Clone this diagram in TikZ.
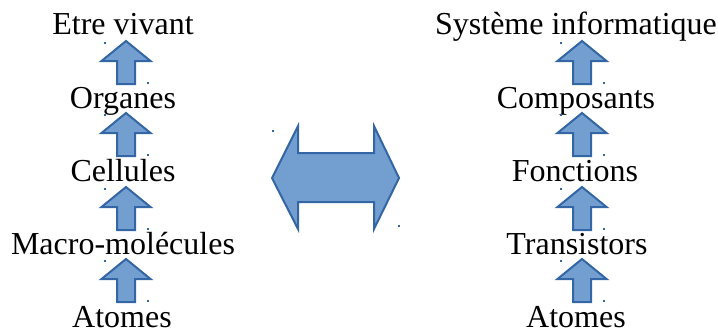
\documentclass[tikz,border=0pt]{standalone}
\usepackage{fontspec}
\setmainfont{Liberation Serif}
\definecolor{arrfill}{HTML}{729FCF}
\definecolor{arrline}{HTML}{3465A4}
\begin{document}
\begin{tikzpicture}[x=1bp,y=-1bp,
  lbl/.style={anchor=base,inner sep=0pt,font=\fontsize{32bp}{38bp}\selectfont},
  blockarr/.style={fill=arrfill,draw=arrline,line width=2bp,line join=miter},
  handle/.style={fill=arrline},
  pics/uparr/.style={code={
    \draw[blockarr] (0,0) -- (24.5,20) -- (9,20) -- (9,43) -- (-9,43) -- (-9,20) -- (-24.5,20) -- cycle;
    \fill[handle] (-22.5,0.5) rectangle (-20.5,2.5);
    \fill[handle] (21,41) rectangle (23,43);
  }}]
\useasboundingbox (0,0) rectangle (718,330);
% left column
\node[lbl] (l5) at (123,34) {Etre vivant};
\node[lbl] (l4) at (123,108) {Organes};
\node[lbl] (l3) at (123,181) {Cellules};
\node[lbl] (l2) at (123,254) {Macro-molécules};
\node[lbl] (l1) at (122,327) {Atomes};
\pic at (126,41) {uparr};
\pic at (126,113) {uparr};
\pic at (126,187) {uparr};
\pic at (126,259) {uparr};
% right column
\node[lbl] (r5) at (576,34) {Système informatique};
\node[lbl] (r4) at (576,108) {Composants};
\node[lbl] (r3) at (575,181) {Fonctions};
\node[lbl] (r2) at (577,254) {Transistors};
\node[lbl] (r1) at (576,327) {Atomes};
\pic at (582,41) {uparr};
\pic at (582,113) {uparr};
\pic at (582,187) {uparr};
\pic at (582,259) {uparr};
% double arrow
\draw[blockarr] (272,178) -- (298,126) -- (298,153) -- (374,153) -- (374,126) -- (399,178) -- (374,229) -- (374,202) -- (298,202) -- (298,229) -- cycle;
\fill[handle] (272,130) rectangle (274,132);
\fill[handle] (398,225) rectangle (400,227);
\end{tikzpicture}
\end{document}
